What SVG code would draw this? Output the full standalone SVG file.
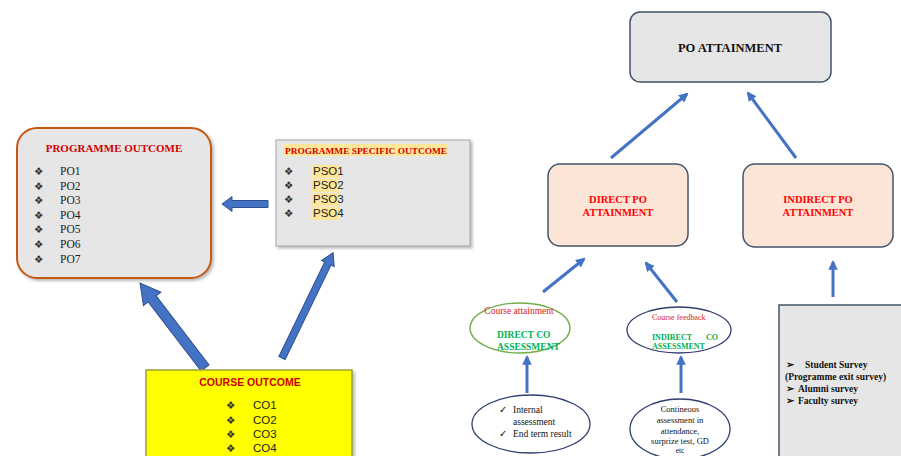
<svg xmlns="http://www.w3.org/2000/svg" width="901" height="456" viewBox="0 0 901 456">
<style>
.serif{font-family:"Liberation Serif","DejaVu Serif",serif}
.sans{font-family:"Liberation Sans","DejaVu Sans",sans-serif}
.item{font-size:11.5px;fill:#222}
.bul{font-size:10.5px;fill:#333;font-family:"DejaVu Sans",sans-serif}
.red{fill:#d00000;font-weight:bold}
.grn{fill:#00b050;font-weight:bold}
.blk{fill:#111}
.line{stroke:#4472c4;stroke-width:3;fill:none}
.barrow{fill:#4472c4;stroke:#2f528f;stroke-width:1}
.card{fill:#e7e6e6;stroke:#44546a;stroke-width:1.5}
.peach{fill:#fbe5d6;stroke:#44546a;stroke-width:1.5}
</style>
<defs>
<marker id="ah" viewBox="0 0 10 10" refX="8" refY="5" markerWidth="3.2" markerHeight="3.2" orient="auto">
<path d="M0,0 L10,5 L0,10 z" fill="#4472c4"/>
</marker>
<filter id="sh" x="-10%" y="-10%" width="130%" height="130%">
<feDropShadow dx="2" dy="2" stdDeviation="1.5" flood-color="#888" flood-opacity="0.6"/>
</filter>
</defs>
<rect width="901" height="456" fill="#ffffff"/>

<g id="connectors">
<polygon class="barrow" points="0,-5 87,-5 87,-11 107,0 87,11 87,5 0,5" transform="translate(205,368) rotate(-127.4)"/>
<polygon class="barrow" points="0,-3.5 105,-3.5 105,-7 117,0 105,7 105,3.5 0,3.5" transform="translate(282,358) rotate(-64.1)"/>
<polygon class="barrow" points="0,-3.5 36,-3.5 36,-7.5 46,0 36,7.5 36,3.5 0,3.5" transform="translate(268,204) rotate(180)"/>
<line class="line" x1="611" y1="158" x2="687" y2="94" marker-end="url(#ah)"/>
<line class="line" x1="796" y1="158" x2="748" y2="93" marker-end="url(#ah)"/>
<line class="line" x1="543" y1="292" x2="584" y2="259" marker-end="url(#ah)"/>
<line class="line" x1="677" y1="302" x2="646" y2="263" marker-end="url(#ah)"/>
<line class="line" x1="833" y1="297" x2="833" y2="262" marker-end="url(#ah)"/>
<line class="line" x1="527" y1="393" x2="527" y2="357" marker-end="url(#ah)"/>
<line class="line" x1="681" y1="393" x2="681" y2="357" marker-end="url(#ah)"/>
</g>

<g id="po">
<rect x="17" y="128" width="194" height="150" rx="20" fill="#e7e6e6" stroke="#c55a11" stroke-width="2" filter="url(#sh)"/>
<text class="serif red" x="114" y="152" font-size="11" text-anchor="middle">PROGRAMME OUTCOME</text>
<g class="bul"><text x="34" y="175">❖</text><text x="34" y="190">❖</text><text x="34" y="204">❖</text><text x="34" y="219">❖</text><text x="34" y="233">❖</text><text x="34" y="248">❖</text><text x="34" y="263">❖</text></g>
<g class="serif item"><text x="60" y="175">PO1</text><text x="60" y="190">PO2</text><text x="60" y="204">PO3</text><text x="60" y="219">PO4</text><text x="60" y="233">PO5</text><text x="60" y="248">PO6</text><text x="60" y="263">PO7</text></g>
</g>

<g id="pso">
<rect x="276" y="140" width="194" height="106" fill="#e7e6e6" stroke="#a6a6a6" stroke-width="1" filter="url(#sh)"/>
<rect x="284" y="144" width="164" height="12" fill="#ffe699"/>
<text class="serif red" x="285" y="154" font-size="9.2" textLength="162" lengthAdjust="spacingAndGlyphs">PROGRAMME SPECIFIC OUTCOME</text>
<g class="bul"><text x="284" y="175">❖</text><text x="284" y="189">❖</text><text x="284" y="203">❖</text><text x="284" y="217">❖</text></g>
<g fill="#ffe699"><rect x="312" y="165" width="27" height="13"/><rect x="312" y="179" width="27" height="13"/><rect x="312" y="193" width="27" height="13"/><rect x="312" y="207" width="27" height="13"/></g>
<g class="sans item" font-size="11"><text x="313" y="175">PSO1</text><text x="313" y="189">PSO2</text><text x="313" y="203">PSO3</text><text x="313" y="217">PSO4</text></g>
</g>

<g id="co">
<rect x="146" y="370" width="206" height="92" fill="#ffff00" stroke="#9aa33a" stroke-width="1.5" filter="url(#sh)"/>
<text class="sans red" x="250" y="386" font-size="10.5" text-anchor="middle">COURSE OUTCOME</text>
<g class="bul"><text x="226" y="409">❖</text><text x="226" y="424">❖</text><text x="226" y="438">❖</text><text x="226" y="452">❖</text></g>
<g class="sans item" font-size="11"><text x="253" y="409">CO1</text><text x="253" y="424">CO2</text><text x="253" y="438">CO3</text><text x="253" y="452">CO4</text></g>
</g>

<g id="po-attainment">
<rect x="630" y="12" width="201" height="70" rx="10" class="card"/>
<text class="serif blk" x="730" y="52" font-size="12.5" font-weight="bold" text-anchor="middle">PO ATTAINMENT</text>
</g>

<g id="direct-po">
<rect x="548" y="164" width="140" height="82" rx="12" class="peach"/>
<text class="serif" x="618" y="203" font-size="10.5" font-weight="bold" fill="#ff0000" text-anchor="middle">DIRECT PO</text>
<text class="serif" x="618" y="216" font-size="10.5" font-weight="bold" fill="#ff0000" text-anchor="middle">ATTAINMENT</text>
</g>

<g id="indirect-po">
<rect x="743" y="164" width="150" height="83" rx="12" class="peach"/>
<text class="serif" x="818" y="203" font-size="10.5" font-weight="bold" fill="#ff0000" text-anchor="middle">INDIRECT PO</text>
<text class="serif" x="818" y="216" font-size="10.5" font-weight="bold" fill="#ff0000" text-anchor="middle">ATTAINMENT</text>
</g>

<g id="direct-co">
<ellipse cx="520" cy="328" rx="50" ry="25" fill="#ffffff" stroke="#70ad47" stroke-width="1.3"/>
<text class="serif" x="519" y="314" font-size="9.5" fill="#e02020" text-anchor="middle">Course attainment</text>
<text class="serif grn" x="497" y="338" font-size="9.5">DIRECT CO</text>
<text class="serif grn" x="497" y="350" font-size="9.5">ASSESSMENT</text>
</g>

<g id="indirect-co">
<ellipse cx="679" cy="330" rx="52" ry="23" fill="#ffffff" stroke="#2f3f6f" stroke-width="1.3"/>
<text class="serif" x="652" y="320" font-size="8" fill="#e02020">Course feedback</text>
<text class="serif grn" x="652" y="340" font-size="8">INDIRECT</text>
<text class="serif grn" x="706" y="340" font-size="8">CO</text>
<text class="serif grn" x="652" y="349" font-size="8">ASSESSMENT</text>
</g>

<g id="internal">
<ellipse cx="531" cy="424" rx="59" ry="29" fill="#ffffff" stroke="#2f3f6f" stroke-width="1.3"/>
<text class="serif blk" x="499" y="413" font-size="9.5">✓</text>
<text class="serif blk" x="513" y="413" font-size="9.5">Internal</text>
<text class="serif blk" x="513" y="425" font-size="9.5">assessment</text>
<text class="serif blk" x="499" y="437" font-size="9.5">✓</text>
<text class="serif blk" x="513" y="437" font-size="9.5">End term result</text>
</g>

<g id="continuous">
<ellipse cx="680" cy="429" rx="50" ry="30" fill="#ffffff" stroke="#2f3f6f" stroke-width="1.3"/>
<g class="serif blk" font-size="8.5" text-anchor="middle">
<text x="680" y="412">Contineous</text>
<text x="680" y="423">assessment in</text>
<text x="680" y="434">attendance,</text>
<text x="680" y="444">surprize test, GD</text>
<text x="680" y="453" font-size="7.5">etc</text>
</g>
</g>

<g id="survey">
<rect x="779" y="305" width="130" height="160" class="card"/>
<g class="serif blk" font-size="9.5" font-weight="bold">
<text x="786" y="368">➢</text><text x="805" y="368">Student Survey</text>
<text x="785" y="380">(Programme exit survey)</text>
<text x="786" y="392">➢</text><text x="798" y="392">Alumni survey</text>
<text x="786" y="404">➢</text><text x="798" y="404">Faculty survey</text>
</g>
</g>
</svg>
